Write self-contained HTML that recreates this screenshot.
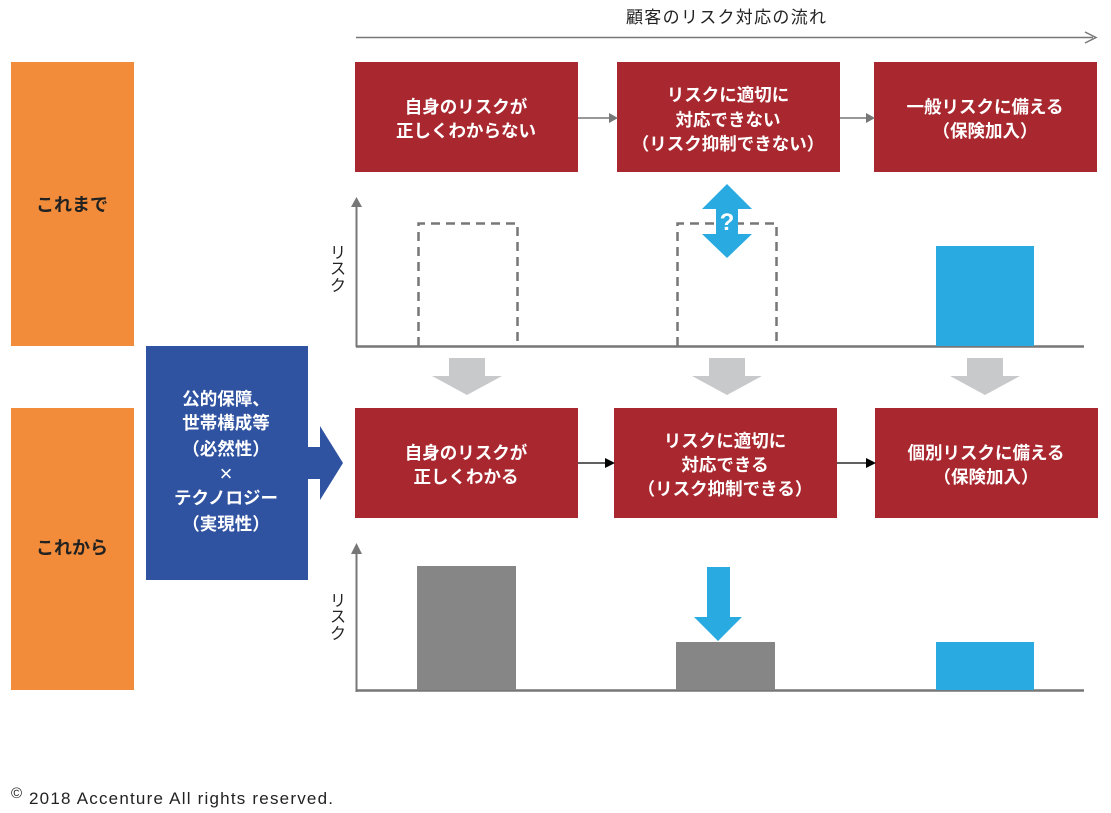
<!DOCTYPE html>
<html><head><meta charset="utf-8"><style>
html,body{margin:0;padding:0;background:#fff;width:1111px;height:813px;overflow:hidden}
svg text{font-family:"Liberation Sans","Noto Sans CJK JP",sans-serif}
</style></head><body>
<svg width="1111" height="813" viewBox="0 0 1111 813" xmlns="http://www.w3.org/2000/svg">
<text x="626" y="23" font-size="17" textLength="200" fill="#222">顧客のリスク対応の流れ</text>
<line x1="356" y1="37.5" x2="1093" y2="37.5" stroke="#777" stroke-width="1.5"/>
<path d="M1085,32 L1096,37.5 L1085,43" fill="none" stroke="#777" stroke-width="1.5"/>

<rect x="11" y="62" width="123" height="284" fill="#f28c3a"/>
<rect x="11" y="408" width="123" height="282" fill="#f28c3a"/>
<text x="72" y="211" font-size="18" font-weight="bold" text-anchor="middle" fill="#222">これまで</text>
<text x="72" y="554" font-size="18" font-weight="bold" text-anchor="middle" fill="#222">これから</text>

<rect x="146" y="346" width="162" height="234" fill="#2f53a1"/>
<path d="M307,447 L320,447 L320,426 L343,463 L320,500 L320,479 L307,479z" fill="#2f53a1"/>
<g font-size="17.5" font-weight="bold" fill="#fff" text-anchor="middle">
<text x="226" y="405">公的保障、</text>
<text x="226" y="429">世帯構成等</text>
<text x="226" y="455">（必然性）</text>
<text x="226" y="481" font-size="22" font-weight="normal">×</text>
<text x="226" y="504">テクノロジー</text>
<text x="226" y="530">（実現性）</text>
</g>

<g fill="#a9282f">
<rect x="355" y="62" width="223" height="110"/>
<rect x="617" y="62" width="223" height="110"/>
<rect x="874" y="62" width="223" height="110"/>
<rect x="355" y="408" width="223" height="110"/>
<rect x="614" y="408" width="223" height="110"/>
<rect x="875" y="408" width="223" height="110"/>
</g>
<g font-size="17.5" font-weight="bold" fill="#fff" text-anchor="middle">
<text x="466" y="113">自身のリスクが</text>
<text x="466" y="137">正しくわからない</text>
<text x="728" y="101">リスクに適切に</text>
<text x="728" y="126">対応できない</text>
<text x="728" y="150">（リスク抑制できない）</text>
<text x="985" y="113">一般リスクに備える</text>
<text x="985" y="137">（保険加入）</text>
<text x="466" y="459">自身のリスクが</text>
<text x="466" y="483">正しくわかる</text>
<text x="725" y="447">リスクに適切に</text>
<text x="725" y="471">対応できる</text>
<text x="725" y="495">（リスク抑制できる）</text>
<text x="986" y="459">個別リスクに備える</text>
<text x="986" y="483">（保険加入）</text>
</g>
<line x1="578" y1="118" x2="611" y2="118" stroke="#777" stroke-width="1.5"/>
<path d="M609,113 L618,118 L609,123z" fill="#777"/>
<line x1="840" y1="118" x2="868" y2="118" stroke="#777" stroke-width="1.5"/>
<path d="M866,113 L875,118 L866,123z" fill="#777"/>
<line x1="578" y1="463" x2="607" y2="463" stroke="#000" stroke-width="1.2"/>
<path d="M605,458 L615,463 L605,468z" fill="#000"/>
<line x1="837" y1="463" x2="868" y2="463" stroke="#000" stroke-width="1.2"/>
<path d="M866,458 L876,463 L866,468z" fill="#000"/>

<!-- chart 1 -->
<line x1="356.5" y1="204" x2="356.5" y2="347" stroke="#777" stroke-width="2"/>
<path d="M351,207 L356.5,197 L362,207z" fill="#777"/>
<line x1="356" y1="346.5" x2="1084" y2="346.5" stroke="#777" stroke-width="2.5"/>
<g fill="none" stroke="#777" stroke-width="2.5" stroke-dasharray="9,6">
<path d="M418.5,346 L418.5,223.5 L517.5,223.5 L517.5,346"/>
<path d="M677.5,346 L677.5,223.5 L776.5,223.5 L776.5,346"/>
</g>
<rect x="936" y="246" width="98" height="100" fill="#29abe2"/>
<path d="M727,184 L752,209 L738,209 L738,234 L752,234 L727,258 L702,234 L716,234 L716,209 L702,209z" fill="#29abe2"/>
<text x="727" y="230" font-size="24" font-weight="bold" text-anchor="middle" fill="#fff">?</text>
<g font-size="16" fill="#222" text-anchor="middle">
<text x="338" y="258">リ</text><text x="338" y="274">ス</text><text x="338" y="291">ク</text>
<text x="338" y="606">リ</text><text x="338" y="622">ス</text><text x="338" y="639">ク</text>
</g>

<!-- gray arrows -->
<g fill="#c8c9cb">
<path d="M449,358 L485,358 L485,376 L502,376 L467,395 L432,376 L449,376z"/>
<path d="M709,358 L745,358 L745,376 L762,376 L727,395 L692,376 L709,376z"/>
<path d="M967,358 L1003,358 L1003,376 L1020,376 L985,395 L950,376 L967,376z"/>
</g>

<!-- chart 2 -->
<line x1="356.5" y1="552" x2="356.5" y2="692" stroke="#777" stroke-width="2"/>
<path d="M351,554 L356.5,543 L362,554z" fill="#777"/>
<line x1="356" y1="690.5" x2="1084" y2="690.5" stroke="#777" stroke-width="2.5"/>
<rect x="417" y="566" width="99" height="124" fill="#868686"/>
<rect x="676" y="642" width="99" height="48" fill="#868686"/>
<rect x="936" y="642" width="98" height="48" fill="#29abe2"/>
<path d="M707,567 L730,567 L730,617 L742,617 L718,641 L694,617 L707,617z" fill="#29abe2"/>

<text x="11" y="798" font-size="15" fill="#222">©</text>
<text x="29" y="804" font-size="17" textLength="304" fill="#222">2018 Accenture All rights reserved.</text>
</svg>
</body></html>
